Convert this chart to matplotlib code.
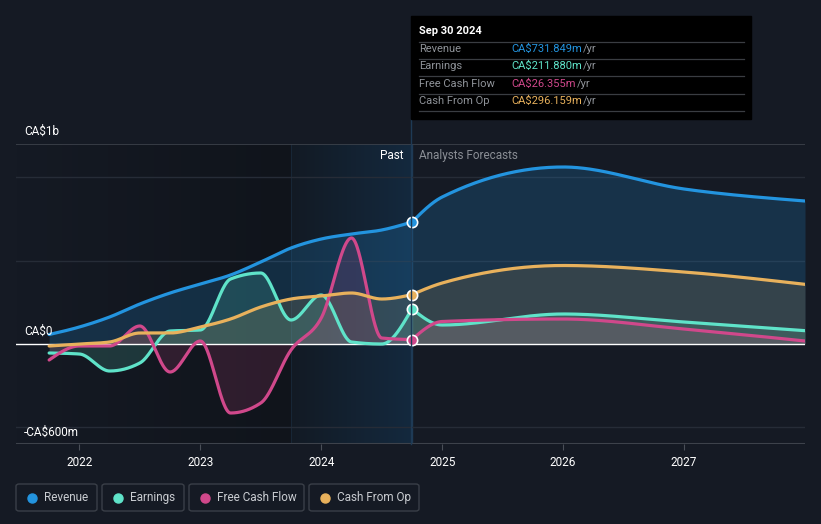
import numpy as np
import matplotlib
matplotlib.use("Agg")
from matplotlib import pyplot as plt
from matplotlib.patches import FancyBboxPatch, Rectangle

plt.rcParams['font.family'] = ['Roboto', 'DejaVu Sans']

# data (CA$ m), trailing twelve months, quarterly past + annual forecasts
past_x = [2021.75, 2022.0, 2022.25, 2022.5, 2022.75, 2023.0, 2023.25,
          2023.5, 2023.75, 2024.0, 2024.25, 2024.5, 2024.75]
fc_x = [2024.75, 2025.0, 2026.0, 2027.0, 2028.0]

revenue_past = [57, 102, 162, 240, 306, 360, 414, 492, 576, 630, 660, 684, 731.849]
revenue_fc = [731.849, 882, 1062, 930, 858]
earnings_past = [-54, -60, -162, -114, 78, 84, 390, 426, 144, 294, 12, 0, 211.88]
earnings_fc = [211.88, 114, 180, 132, 80]
fcf_past = [-96, -12, -12, 108, -168, 18, -414, -354, -36, 156, 636, 36, 26.355]
fcf_fc = [26.355, 135, 150, 90, 18]
cfo_past = [-12, 0, 12, 66, 66, 102, 150, 222, 270, 288, 306, 270, 296.159]
cfo_fc = [296.159, 366, 471, 432, 358]

years = [2022, 2023, 2024, 2025, 2026, 2027]
names = ["Revenue", "Earnings", "Free Cash Flow", "Cash From Op"]
tip_values = ["CA$731.849m", "CA$211.880m", "CA$26.355m", "CA$296.159m"]
colors = ["#2394df", "#5fe3c9", "#d0488b", "#e8b15c"]

BG = "#151a24"
W, H = 821, 524


def monotone(xs, ys, n=60):
    # monotone cubic (same idea as d3 curveMonotoneX)
    xs = np.asarray(xs, float)
    ys = np.asarray(ys, float)
    h = np.diff(xs)
    s = np.diff(ys) / h
    m = np.zeros(len(xs))
    for i in range(1, len(xs) - 1):
        if s[i - 1] * s[i] <= 0:
            m[i] = 0
        else:
            p = (s[i - 1] * h[i] + s[i] * h[i - 1]) / (h[i - 1] + h[i])
            m[i] = np.sign(s[i]) * min(abs(s[i - 1]), abs(s[i]), 0.5 * abs(p)) * 2
    m[0] = (3 * s[0] - m[1]) / 2
    m[-1] = (3 * s[-1] - m[-2]) / 2
    ox, oy = [], []
    for i in range(len(xs) - 1):
        t = np.linspace(0, 1, n)
        h00 = 2 * t**3 - 3 * t**2 + 1
        h10 = t**3 - 2 * t**2 + t
        h01 = -2 * t**3 + 3 * t**2
        h11 = t**3 - t**2
        ox.append(xs[i] + t * h[i])
        oy.append(h00 * ys[i] + h10 * h[i] * m[i] + h01 * ys[i + 1] + h11 * h[i] * m[i + 1])
    return np.concatenate(ox), np.concatenate(oy)


def fx(x):
    return x / W


def fy(y):
    return 1 - y / H


fig = plt.figure(figsize=(8.21, 5.24), dpi=100, facecolor=BG)
ax = fig.add_axes([fx(16), fy(444), fx(805) - fx(16), fy(144) - fy(444)])
ax.set_facecolor(BG)
x0, x1 = 2021.476, 2028.0
ax.set_xlim(x0, x1)
ax.set_ylim(-600, 1200)
for s in ax.spines.values():
    s.set_visible(False)

# background shading: darker past, blue highlight for the last year
grad = np.linspace(0, 1, 256).reshape(1, -1)
ax.imshow(grad, extent=[x0, 2023.75, -600, 1200], aspect='auto', zorder=0,
          cmap=matplotlib.colors.LinearSegmentedColormap.from_list('p', [BG, '#10141b']))
ax.imshow(grad, extent=[2023.75, 2024.75, -600, 1200], aspect='auto', zorder=0,
          cmap=matplotlib.colors.LinearSegmentedColormap.from_list('h', ['#121a24', '#14293e']))
ax.axvline(2023.75, color='#172636', lw=0.8, zorder=1)
ax.axvline(2024.75, color='#1e3a55', lw=1.0, zorder=1)

# grid
for v in [-500, 500, 1000]:
    ax.axhline(v, color='#262c37', lw=1, zorder=1)
ax.axhline(1200, color='#3d424b', lw=1.2, zorder=1)
ax.axhline(-600, color='#3d424b', lw=1.5, zorder=1)

series = [(revenue_past, revenue_fc), (earnings_past, earnings_fc),
          (fcf_past, fcf_fc), (cfo_past, cfo_fc)]
fill_alpha = [0.2, 0.16, 0.16, 0.14]
for (pv, fv), c, a in zip(series, colors, fill_alpha):
    px_, py_ = monotone(past_x, pv)
    fx_, fy_ = monotone(fc_x, fv)
    xx = np.concatenate([px_, fx_])
    yy = np.concatenate([py_, fy_])
    ax.fill_between(xx, yy, 0, color=c, alpha=a, lw=0, zorder=2)
    ax.plot(xx, yy, color=c, lw=2.3, zorder=4, solid_capstyle='round')

ax.axhline(0, color='#ffffff', lw=1.0, zorder=3)

for (pv, fv), c in zip(series, colors):
    ax.scatter([past_x[-1]], [pv[-1]], s=55, color=c, edgecolor='white', lw=1.2, zorder=6)

# x ticks
ax.set_xticks(years)
ax.set_xticklabels([str(y) for y in years], color='white', fontsize=8.5)
ax.tick_params(axis='x', length=4, color='#4a4f58', pad=5)
ax.set_yticks([])

# y labels
for txt, y in [("CA$1b", 131), ("CA$0", 331), ("-CA$600m", 432)]:
    fig.text(fx(24), fy(y), txt, color='white', fontsize=8.5, va='center', ha='left')

fig.text(fx(403), fy(156), "Past", color='white', fontsize=8.5, va='center', ha='right')
fig.text(fx(419), fy(156), "Analysts Forecasts", color='#8a8e95', fontsize=8.5, va='center', ha='left')

# tooltip
fig.add_artist(Rectangle((fx(411), fy(119)), fx(751) - fx(411), fy(16) - fy(119),
                         transform=fig.transFigure, color='#000000', zorder=10))
fig.add_artist(plt.Line2D([fx(411), fx(411)], [fy(444), fy(119)], transform=fig.transFigure,
                          color='#1e3a55', lw=1.0, zorder=9))
fig.text(fx(419), fy(31), "Sep 30 2024", color='white', fontsize=8, fontweight='bold',
         va='center', ha='left', zorder=11)
row_y = [49, 66, 84, 101]
slash_x = [583, 583, 577, 583]
for yl in [41.5, 58.5, 76, 93.5, 111]:
    fig.add_artist(plt.Line2D([fx(419), fx(744)], [fy(yl), fy(yl)], transform=fig.transFigure,
                              color='#3a3d42', lw=0.9, zorder=11))
for n, v, c, y, sx in zip(names, tip_values, colors, row_y, slash_x):
    fig.text(fx(419), fy(y), n, color='#8f9399', fontsize=8, va='center', ha='left', zorder=11)
    fig.text(fx(511), fy(y), v, color=c, fontsize=8, va='center', ha='left', zorder=11)
    fig.text(fx(sx), fy(y), "/yr", color='#8f9399', fontsize=8, va='center', ha='left', zorder=11)

# legend
boxes = [(16, 97), (102, 184), (189, 304), (309, 419)]
for (bx0, bx1), n, c in zip(boxes, names, colors):
    fig.add_artist(FancyBboxPatch((fx(bx0), fy(511)), fx(bx1) - fx(bx0), fy(484) - fy(511),
                                  boxstyle="round,pad=0,rounding_size=0.004",
                                  transform=fig.transFigure, facecolor=BG,
                                  edgecolor='#3a3f48', lw=1.0))
    fig.add_artist(plt.Line2D([fx(bx0 + 16)], [fy(497.5)], marker='o', markersize=6.5,
                              color=c, transform=fig.transFigure))
    fig.text(fx(bx0 + 28), fy(497.5), n, color='#c9ccd1', fontsize=8.5, va='center', ha='left')

fig.savefig("out.png", dpi=100, facecolor=BG)
